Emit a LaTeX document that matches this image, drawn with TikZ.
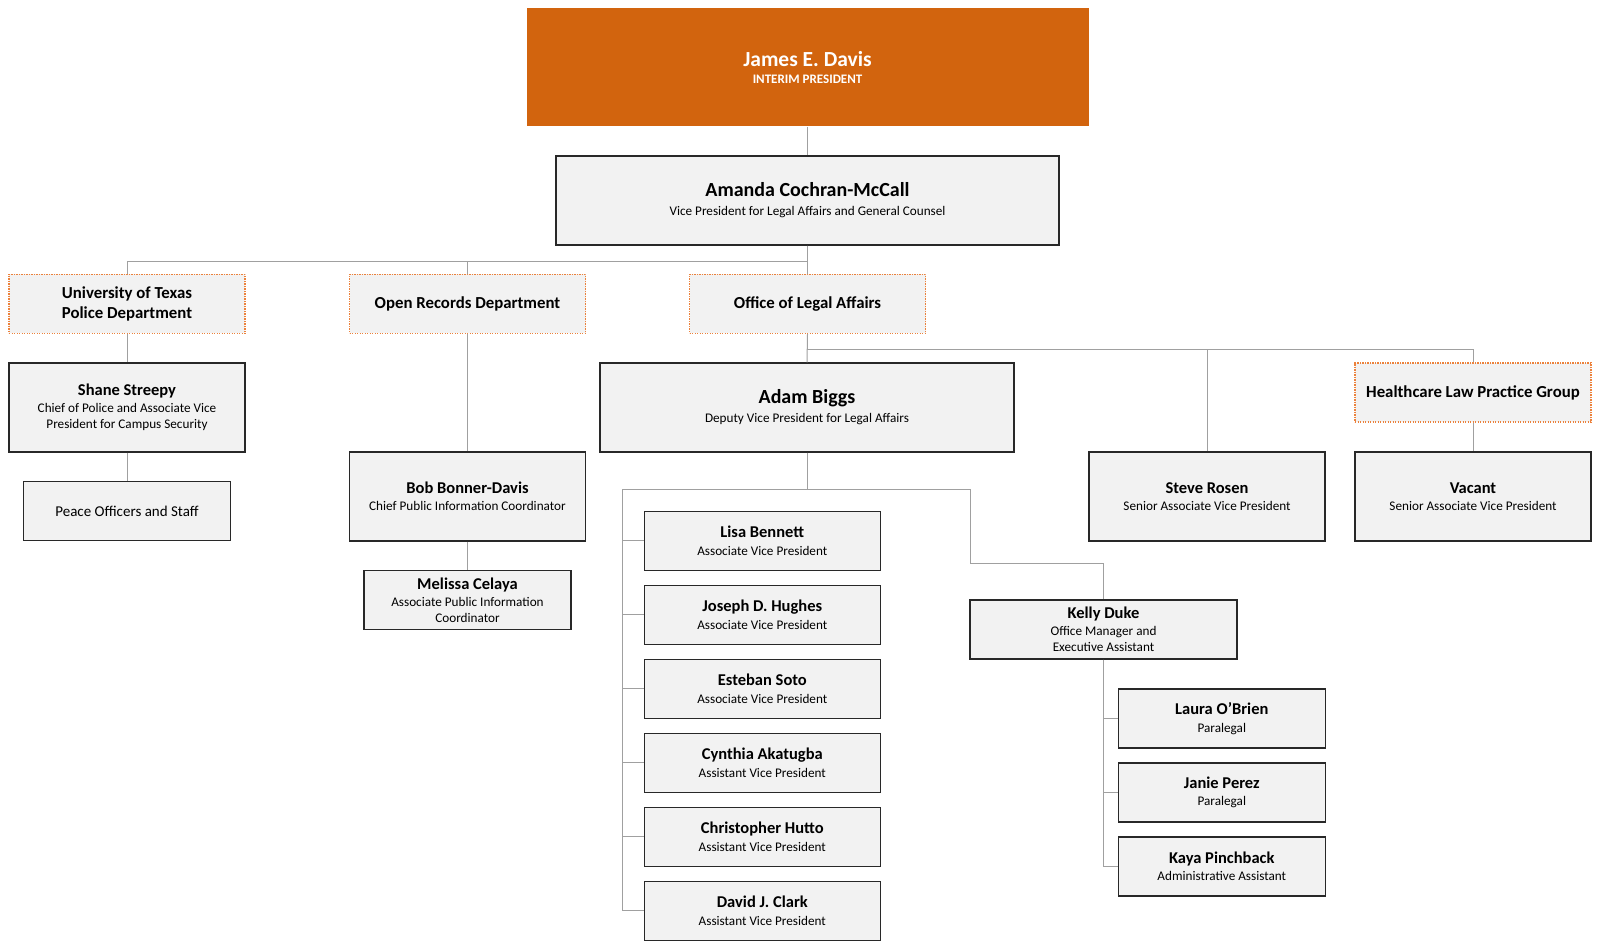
\documentclass[tikz,border=0pt]{standalone}
\usepackage{fontspec}
\setmainfont{Carlito}
\usepackage{tikz}
\newcommand{\namefont}{\fontsize{16.5}{19}\selectfont\bfseries}
\newcommand{\bignamefont}{\fontsize{20}{23}\selectfont\bfseries}
\newcommand{\titlefont}{\fontsize{13.2}{16}\selectfont}
\newcommand{\deptfont}{\fontsize{16.8}{20}\selectfont\bfseries}
\definecolor{utorange}{RGB}{210,100,14}
\definecolor{dotorange}{RGB}{236,130,60}
\definecolor{boxfill}{RGB}{242,242,242}
\definecolor{boxline}{RGB}{40,40,40}
\definecolor{linkgray}{RGB}{160,160,160}
\tikzstyle{box}=[draw=boxline, fill=boxfill, line width=1.2pt, inner sep=0, align=center, font=\titlefont]
\tikzstyle{bigbox}=[box, minimum width=236pt, minimum height=89pt]
\tikzstyle{lowbox}=[box, minimum width=236pt, minimum height=59pt]
\tikzstyle{narrowbox}=[box, minimum width=207pt, minimum height=59pt]
\tikzstyle{dept}=[draw=dotorange, fill=boxfill, line width=1.1pt, dash pattern=on 1.2pt off 1.3pt,
                  inner sep=0, align=center, font=\deptfont, minimum width=236pt, minimum height=59pt]
\tikzstyle{chief}=[fill=utorange, text=white, inner sep=0, align=center, minimum width=562pt, minimum height=118pt]
\tikzstyle{orgline}=[draw=linkgray, line width=1pt]
\begin{document}
\begin{tikzpicture}[x=1pt, y=-1pt]
        \useasboundingbox (0,0) rectangle (1600,949);
        % top of the chart
        \node[chief] (james) at (807.5, 67.5) {{\fontsize{21.5}{24}\selectfont\bfseries James E. Davis}\\[5pt]{\fontsize{13}{15}\selectfont\bfseries INTERIM PRESIDENT}};
        \node[box, minimum width=503pt, minimum height=89pt] (amanda) at (807.5, 200.5) {{\bignamefont Amanda Cochran-McCall}\\[3pt]Vice President for Legal Affairs and General Counsel};
        % departments
        \node[dept] (utpd) at (127, 304) {University of Texas\\Police Department};
        \node[dept] (openrec) at (467.5, 304) {Open Records Department};
        \node[dept] (ola) at (807.5, 304) {Office of Legal Affairs};
        \node[dept] (hlpg) at (1473, 392.5) {Healthcare Law Practice Group};
        % police
        \node[bigbox] (shane) at (127, 407.5) {{\namefont Shane Streepy}\\[1.5pt]Chief of Police and Associate Vice\\President for Campus Security};
        \node[narrowbox] (peace) at (127, 511) {\fontsize{15}{18}\selectfont Peace Officers and Staff};
        % open records
        \node[bigbox] (bob) at (467.5, 496.5) {{\namefont Bob Bonner-Davis}\\[1.5pt]Chief Public Information Coordinator};
        \node[narrowbox] (melissa) at (467.5, 600) {{\namefont Melissa Celaya}\\[1pt]Associate Public Information\\Coordinator};
        % legal affairs
        \node[box, minimum width=414pt, minimum height=89pt] (adam) at (807, 407.5) {{\bignamefont Adam Biggs}\\[3pt]Deputy Vice President for Legal Affairs};
        \node[bigbox] (steve) at (1207, 496.5) {{\namefont Steve Rosen}\\[1.5pt]Senior Associate Vice President};
        \node[bigbox] (vacant) at (1473, 496.5) {{\namefont Vacant}\\[1.5pt]Senior Associate Vice President};
        \node[lowbox] (lisa) at (762.3, 540.7) {{\namefont Lisa Bennett}\\[1.5pt]Associate Vice President};
        \node[lowbox] (joseph) at (762.3, 614.7) {{\namefont Joseph D. Hughes}\\[1.5pt]Associate Vice President};
        \node[lowbox] (esteban) at (762.3, 688.7) {{\namefont Esteban Soto}\\[1.5pt]Associate Vice President};
        \node[lowbox] (cynthia) at (762.3, 762.7) {{\namefont Cynthia Akatugba}\\[1.5pt]Assistant Vice President};
        \node[lowbox] (chris) at (762.3, 836.7) {{\namefont Christopher Hutto}\\[1.5pt]Assistant Vice President};
        \node[lowbox] (david) at (762.3, 910.7) {{\namefont David J. Clark}\\[1.5pt]Assistant Vice President};
        \node[box, minimum width=267pt, minimum height=59pt] (kelly) at (1103.5, 629.5) {{\namefont Kelly Duke}\\[1pt]Office Manager and\\Executive Assistant};
        \node[narrowbox] (laura) at (1221.8, 718.5) {{\namefont Laura O'Brien}\\[1.5pt]Paralegal};
        \node[narrowbox] (janie) at (1221.8, 792.5) {{\namefont Janie Perez}\\[1.5pt]Paralegal};
        \node[narrowbox] (kaya) at (1221.8, 866.5) {{\namefont Kaya Pinchback}\\[1.5pt]Administrative Assistant};
        % rails
        \coordinate (avprail) at (622.5, 489);
        \coordinate (kbend) at (970.4, 563);
        % connectors
        \draw[orgline] (james.south) -- (amanda.north);
        \draw[orgline] (amanda.south) -- (ola.north);
        \draw[orgline] (amanda.south) -- ++(0,16) -| (utpd.north);
        \draw[orgline] (amanda.south) -- ++(0,16) -| (openrec.north);
        \draw[orgline] (utpd.south) -- (shane.north);
        \draw[orgline] (shane.south) -- (peace.north);
        \draw[orgline] (openrec.south) -- (bob.north);
        \draw[orgline] (bob.south) -- (melissa.north);
        \draw[orgline] (ola.south) -- (adam.north);
        \draw[orgline] (ola.south) -- ++(0,15.5) -| (steve.north);
        \draw[orgline] (ola.south) -- ++(0,15.5) -| (hlpg.north);
        \draw[orgline] (hlpg.south) -- (vacant.north);
        \draw[orgline] (adam.south) |- (avprail) |- (david.west);
        \draw[orgline] (avprail) |- (lisa.west);
        \draw[orgline] (avprail) |- (joseph.west);
        \draw[orgline] (avprail) |- (esteban.west);
        \draw[orgline] (avprail) |- (cynthia.west);
        \draw[orgline] (avprail) |- (chris.west);
        \draw[orgline] (adam.south) |- (kbend |- avprail) -- (kbend) -| (kelly.north);
        \draw[orgline] (kelly.south) |- (laura.west);
        \draw[orgline] (kelly.south) |- (janie.west);
        \draw[orgline] (kelly.south) |- (kaya.west);
    \end{tikzpicture}
\end{document}
